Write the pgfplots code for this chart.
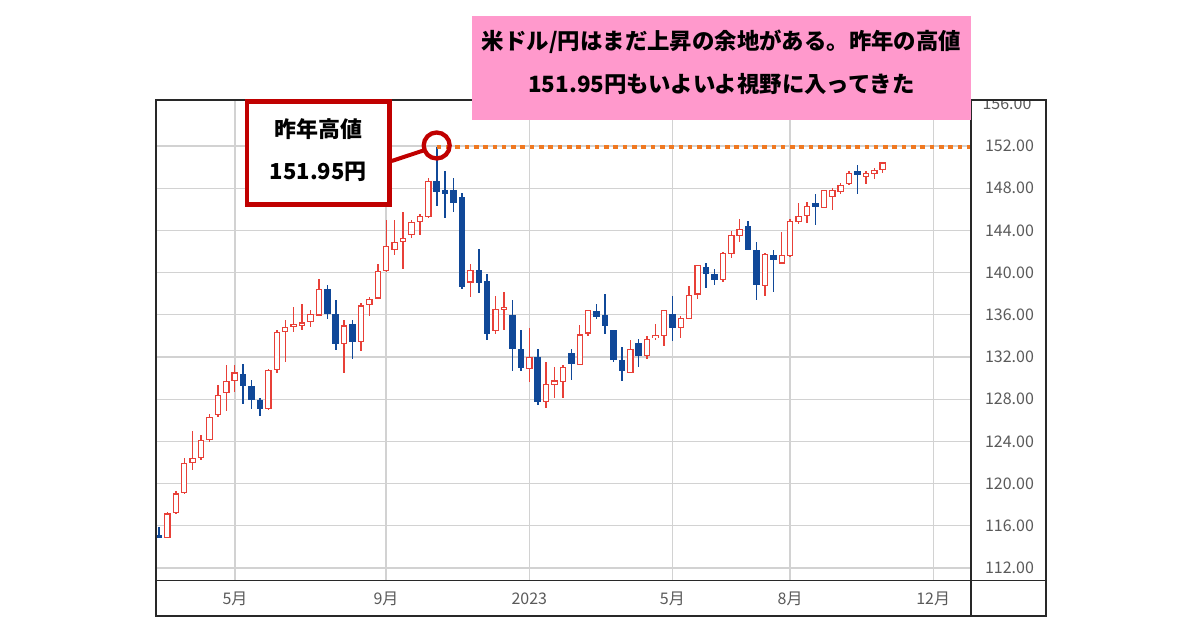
\documentclass[border=0pt]{standalone}
\usepackage{fontspec}
\setmainfont{Noto Sans CJK JP}
\usepackage{pgfplots}
\usepackage{pgfplotstable}
\pgfplotsset{compat=1.18}
\definecolor{upred}{RGB}{232,64,56}
\definecolor{dnblue}{RGB}{16,72,152}
\definecolor{gridgray}{RGB}{210,210,210}
\definecolor{lblgray}{RGB}{90,90,90}
\definecolor{boxred}{RGB}{192,0,0}
\definecolor{dotorange}{RGB}{240,120,32}
\definecolor{pinkbg}{RGB}{255,153,204}
\definecolor{framec}{RGB}{40,40,40}

\pgfplotstableread{
i O H L C
1 115.13 115.92 114.80 114.87
2 114.87 117.30 114.80 117.18
3 117.18 119.33 117.10 119.08
4 119.08 122.40 119.00 121.96
5 121.96 125.03 121.30 122.43
6 122.43 124.65 122.27 124.18
7 124.10 126.62 123.90 126.30
8 126.50 129.37 126.30 128.42
9 128.57 131.20 126.93 129.71
10 129.71 131.20 128.68 130.54
11 130.41 131.36 127.56 129.21
12 129.21 129.78 127.09 127.88
13 127.94 128.10 126.40 127.09
14 127.09 130.85 127.00 130.79
15 130.79 134.55 130.51 134.37
16 134.37 135.55 131.52 134.84
17 134.84 136.74 134.37 135.16
18 134.98 137.06 134.59 135.28
19 135.33 136.49 134.84 136.05
20 135.92 139.40 135.90 138.42
21 138.42 138.83 135.63 136.05
22 136.05 137.38 132.63 133.20
23 133.26 135.48 130.51 135.00
24 135.16 135.48 131.84 133.42
25 133.42 137.16 132.56 136.90
26 136.90 137.69 135.89 137.53
27 137.53 140.79 137.50 140.16
28 140.16 144.97 140.10 142.50
29 142.12 144.97 141.65 142.91
30 142.91 145.76 140.38 143.29
31 143.55 144.97 143.24 144.81
32 144.75 145.60 143.55 145.35
33 145.23 148.93 145.20 148.71
34 148.71 151.94 146.30 147.66
35 147.82 149.67 145.13 147.41
36 147.82 148.93 145.76 146.62
37 147.13 147.57 138.49 138.64
38 139.05 140.86 137.69 140.22
39 140.29 142.28 138.08 139.05
40 139.22 139.84 133.65 134.21
41 134.43 137.79 134.15 136.58
42 136.45 138.18 134.59 136.76
43 135.95 137.38 130.66 132.72
44 132.79 134.53 130.72 130.98
45 130.89 134.78 129.63 132.00
46 132.00 132.79 127.47 127.72
47 127.72 131.52 127.20 129.47
48 129.30 131.10 128.14 129.78
49 129.60 131.20 128.14 131.10
50 132.38 132.79 129.85 131.30
51 131.20 135.00 131.20 134.15
52 134.21 136.50 134.00 136.43
53 136.33 137.00 135.63 135.79
54 135.95 137.94 134.15 134.94
55 134.53 134.60 131.52 131.74
56 131.74 132.95 129.71 130.67
57 130.50 133.57 130.50 132.79
58 133.33 133.73 131.10 132.06
59 132.06 133.95 131.84 133.73
60 133.78 135.16 133.57 134.08
61 133.95 136.50 133.00 136.43
62 136.05 137.75 133.51 134.75
63 134.75 135.86 133.80 135.70
64 135.63 138.70 135.60 137.91
65 137.91 140.75 137.53 140.70
66 140.54 140.95 138.56 139.84
67 139.91 140.38 138.80 139.34
68 139.27 141.97 139.11 141.87
69 141.74 143.93 141.34 143.61
70 143.45 145.04 142.92 144.18
71 144.40 144.91 142.10 142.12
72 142.12 142.92 137.38 138.80
73 138.70 141.85 137.75 141.81
74 141.71 142.12 138.17 141.21
75 140.86 143.87 140.80 141.65
76 141.56 145.04 141.50 144.91
77 144.81 146.56 144.59 145.38
78 145.35 146.71 144.67 146.33
79 146.56 147.44 144.50 146.18
80 146.14 147.85 146.10 147.82
81 147.13 148.05 145.92 147.82
82 147.66 148.52 147.41 148.30
83 148.39 149.66 148.30 149.47
84 149.66 150.20 147.41 149.25
85 149.03 149.66 148.36 149.47
86 149.34 149.88 148.84 149.72
87 149.72 150.51 149.40 150.45
}\ohlc

\begin{document}
\begin{tikzpicture}
\fill[white] (0pt,0pt) rectangle (600pt,315pt);
\path[use as bounding box] (0pt,0pt) rectangle (600pt,315pt);
\begin{axis}[
  at={(78.25pt,24.65pt)}, anchor=south west,
  width=407.25pt, height=240.35pt, scale only axis,
  xmin=0.703, xmax=97.49, ymin=110.80, ymax=156.36,
  axis line style={draw=none},
  xtick={10.03,27.98,45.0,62.0,75.99,93.0},
  xticklabels={5月,9月,2023,5月,8月,12月},
  ytick={112,116,120,124,128,132,136,140,144,148,152},
  yticklabels={112.00,116.00,120.00,124.00,128.00,132.00,136.00,140.00,144.00,148.00,152.00},
  yticklabel pos=right,
  major tick length=0pt,
  grid=major,
  major grid style={draw=gridgray, line width=0.6pt},
  xticklabel style={anchor=center, yshift=-9.2pt, font=\fontsize{8}{9}\selectfont, text=lblgray},
  yticklabel style={xshift=3.5pt, font=\fontsize{8}{9}\selectfont, text=lblgray},
]
% up candles: wicks
\addplot[draw=none, mark=none, restrict expr to domain={\thisrow{C}-\thisrow{O}}{0:100},
  error bars/.cd, y dir=both, y explicit, error mark=none,
  error bar style={draw=upred, line width=0.7pt}]
  table[x=i, y expr={(\thisrow{H}+\thisrow{L})/2}, y error expr={(\thisrow{H}-\thisrow{L})/2}] {\ohlc};
% up candles: body outline
\addplot[draw=none, mark=none, restrict expr to domain={\thisrow{C}-\thisrow{O}}{0:100},
  error bars/.cd, y dir=both, y explicit, error mark=none,
  error bar style={draw=upred, line width=3.25pt}]
  table[x=i, y expr={(\thisrow{O}+\thisrow{C})/2}, y error expr={(\thisrow{C}-\thisrow{O})/2}] {\ohlc};
% up candles: hollow inside
\addplot[draw=none, mark=none, restrict expr to domain={\thisrow{C}-\thisrow{O}}{0:100},
  error bars/.cd, y dir=both, y explicit, error mark=none,
  error bar style={draw=white, line width=2.05pt}]
  table[x=i, y expr={(\thisrow{O}+\thisrow{C})/2}, y error expr={(\thisrow{C}-\thisrow{O})/2-0.114}] {\ohlc};
% down candles: wicks
\addplot[draw=none, mark=none, restrict expr to domain={\thisrow{C}-\thisrow{O}}{-100:-0.0001},
  error bars/.cd, y dir=both, y explicit, error mark=none,
  error bar style={draw=dnblue, line width=0.8pt}]
  table[x=i, y expr={(\thisrow{H}+\thisrow{L})/2}, y error expr={(\thisrow{H}-\thisrow{L})/2}] {\ohlc};
% down candles: body
\addplot[draw=none, mark=none, restrict expr to domain={\thisrow{C}-\thisrow{O}}{-100:-0.0001},
  error bars/.cd, y dir=both, y explicit, error mark=none,
  error bar style={draw=dnblue, line width=3.25pt}]
  table[x=i, y expr={(\thisrow{O}+\thisrow{C})/2}, y error expr={(\thisrow{O}-\thisrow{C})/2}] {\ohlc};
% last year's high
\addplot[dotorange, line width=2pt, dash pattern=on 2.3pt off 2.35pt] coordinates {(34,151.95) (97.49,151.95)};
\end{axis}
\begin{scope}[x=0.5pt,y=0.5pt]
% clipped top label
\begin{scope}
\clip (972,0) rectangle (1045,529.2);
\node[font=\fontsize{8}{9}\selectfont, text=lblgray] at (1007,526.2) {156.00};
\end{scope}
% frame
\draw[framec, line width=0.8pt] (156,14) rectangle (1045.7,530);
\draw[framec, line width=0.8pt] (971,14) -- (971,530);
\draw[framec, line width=0.8pt] (156,49.3) -- (1045.7,49.3);
% pink headline box
\fill[pinkbg] (471.7,510) rectangle (971,614);
\node[font=\fontsize{11.2}{13}\selectfont\bfseries] at (721.5,588) {米ドル/円はまだ上昇の余地がある。昨年の高値};
\node[font=\fontsize{11.2}{13}\selectfont\bfseries] at (721.5,546) {151.95円もいよいよ視野に入ってきた};
% annotation
\draw[boxred, line width=2pt] (391.7,469) -- (425,480);
\draw[boxred, line width=2.25pt, fill=white] (247.2,425.5) rectangle (389.5,528.5);
\node[font=\fontsize{11}{13}\selectfont\bfseries] at (318.3,500.7) {昨年高値};
\node[font=\fontsize{11}{13}\selectfont\bfseries] at (318.3,458.3) {151.95円};
\draw[boxred, line width=2.15pt] (436.7,484.5) circle (13);
\end{scope}
\end{tikzpicture}
\end{document}
